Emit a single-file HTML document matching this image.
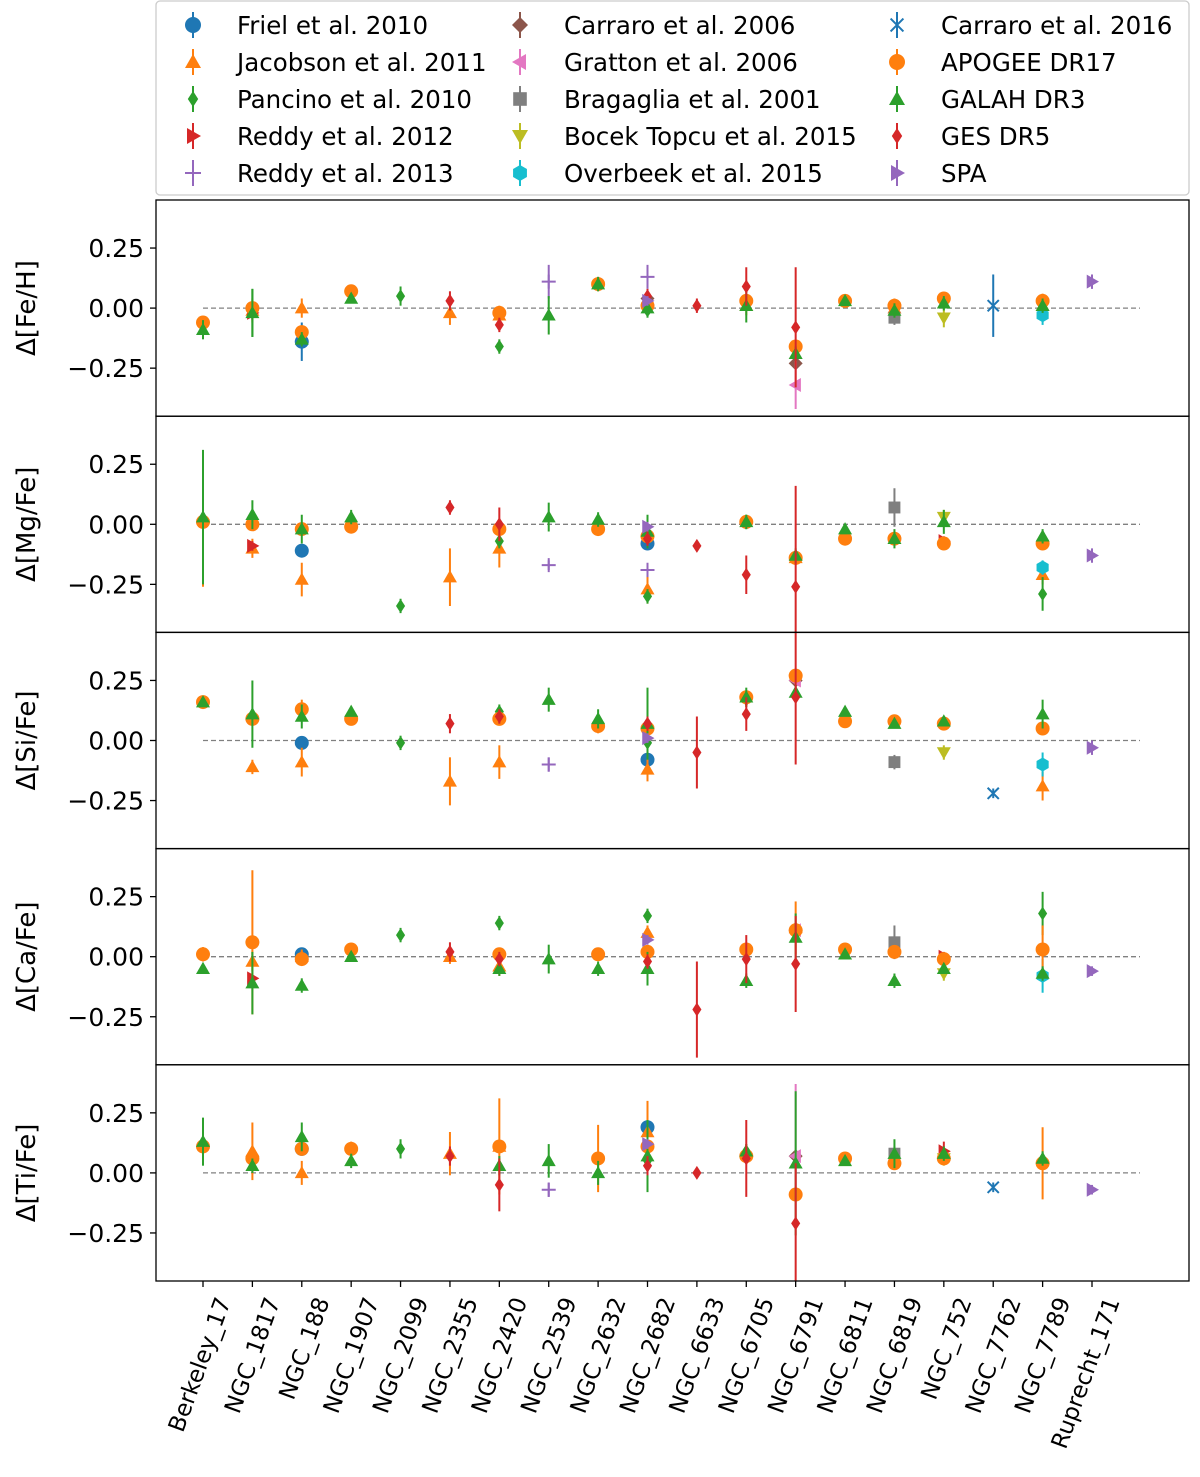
<!DOCTYPE html>
<html><head><meta charset="utf-8"><style>
html,body{margin:0;padding:0;background:#fff;}
svg{display:block;font-family:"DejaVu Sans","Liberation Sans",sans-serif;}
</style></head><body>
<svg id="chart" width="1200" height="1477" viewBox="0 0 1200 1477" xmlns="http://www.w3.org/2000/svg"></svg>
<script>
const clusters = ["Berkeley_17","NGC_1817","NGC_188","NGC_1907","NGC_2099","NGC_2355","NGC_2420","NGC_2539","NGC_2632","NGC_2682","NGC_6633","NGC_6705","NGC_6791","NGC_6811","NGC_6819","NGC_752","NGC_7762","NGC_7789","Ruprecht_171"];
const panelLabels = ["Δ[Fe/H]","Δ[Mg/Fe]","Δ[Si/Fe]","Δ[Ca/Fe]","Δ[Ti/Fe]"];
const yTicks = [0.25, 0, -0.25];
const yTickLabels = ["0.25","0.00","\u22120.25"];
const surveys = ["Friel et al. 2010","Jacobson et al. 2011","Pancino et al. 2010","Reddy et al. 2012","Reddy et al. 2013","Carraro et al. 2006","Gratton et al. 2006","Bragaglia et al. 2001","Bocek Topcu et al. 2015","Overbeek et al. 2015","Carraro et al. 2016","APOGEE DR17","GALAH DR3","GES DR5","SPA"];
const colors = ["#1f77b4","#ff7f0e","#2ca02c","#d62728","#9467bd","#8c564b","#e377c2","#7f7f7f","#bcbd22","#17becf","#1f77b4","#ff7f0e","#2ca02c","#d62728","#9467bd"];
const markers = ["o","^","d",">","+","D","<","s","v","h","x","o","^","d",">"];
// data: per panel, per survey: [clusterIndex, value, error]
const feH = [
 [[2,-0.14,0.08]],
 [[1,-0.01,0.05],[2,0.00,0.04],[5,-0.02,0.05],[6,-0.03,0.04],[9,0.02,0.04],[11,0.01,0.04],[14,0.00,0.04],[17,0.01,0.05]],
 [[1,-0.02,0.1],[2,-0.12,0.03],[4,0.05,0.04],[6,-0.16,0.03],[9,-0.01,0.03]],
 [[1,-0.02,0.03]],
 [[7,0.11,0.07],[9,0.13,0.05]],
 [[9,0.04,0.02],[12,-0.23,0.02]],
 [[12,-0.32,0.1]],
 [[14,-0.04,0.03]],
 [[15,-0.04,0.04]],
 [[17,-0.03,0.04]],
 [[16,0.01,0.13]],
 [[0,-0.06,0.02],[1,0.00,0.02],[2,-0.10,0.02],[3,0.07,0.02],[6,-0.02,0.02],[8,0.10,0.03],[9,0.01,0.02],[11,0.03,0.02],[12,-0.16,0.02],[13,0.03,0.02],[14,0.01,0.02],[15,0.04,0.02],[17,0.03,0.02]],
 [[0,-0.09,0.04],[1,-0.02,0.1],[2,-0.13,0.03],[3,0.04,0.02],[7,-0.03,0.08],[8,0.10,0.03],[9,0.00,0.03],[11,0.01,0.07],[12,-0.19,0.03],[13,0.03,0.02],[14,-0.01,0.03],[15,0.02,0.03],[17,0.01,0.03]],
 [[5,0.03,0.04],[6,-0.07,0.03],[9,0.05,0.03],[10,0.01,0.03],[11,0.09,0.08],[12,-0.08,0.25]],
 [[9,0.03,0.02],[18,0.11,0.03]]
];
const mgFe = [
 [[2,-0.11,0.02],[9,-0.08,0.02]],
 [[1,-0.10,0.04],[2,-0.23,0.07],[5,-0.22,0.12],[6,-0.10,0.08],[9,-0.27,0.06],[12,-0.14,0.03],[17,-0.21,0.04]],
 [[4,-0.34,0.03],[6,-0.07,0.03],[9,-0.30,0.03],[11,0.01,0.03],[17,-0.29,0.07]],
 [[1,-0.09,0.02],[15,-0.07,0.02]],
 [[7,-0.17,0.02],[9,-0.19,0.03]],
 [],[],
 [[14,0.07,0.08]],
 [[15,0.03,0.03]],
 [[17,-0.18,0.03]],
 [],
 [[0,0.01,0.27],[1,0.00,0.02],[2,-0.02,0.02],[3,-0.01,0.02],[6,-0.02,0.02],[8,-0.02,0.02],[9,-0.05,0.02],[11,0.01,0.02],[12,-0.14,0.02],[13,-0.06,0.02],[14,-0.06,0.02],[15,-0.08,0.02],[17,-0.08,0.02]],
 [[0,0.03,0.28],[1,0.04,0.06],[2,-0.02,0.06],[3,0.03,0.03],[7,0.03,0.06],[8,0.02,0.03],[9,-0.03,0.07],[11,0.01,0.03],[12,-0.13,0.03],[13,-0.02,0.02],[14,-0.06,0.04],[15,0.01,0.05],[17,-0.05,0.03]],
 [[5,0.07,0.03],[6,0.00,0.07],[9,-0.06,0.03],[10,-0.09,0.02],[11,-0.21,0.08],[12,-0.26,0.42]],
 [[9,-0.01,0.02],[18,-0.13,0.03]]
];
const siFe = [
 [[2,-0.01,0.02],[9,-0.08,0.02]],
 [[1,-0.11,0.03],[2,-0.09,0.06],[5,-0.17,0.1],[6,-0.09,0.07],[9,-0.12,0.05],[17,-0.19,0.06]],
 [[1,0.10,0.03],[4,-0.01,0.03],[6,0.12,0.03],[9,-0.01,0.03],[11,0.17,0.03]],
 [],
 [[7,-0.10,0.03]],
 [[12,0.25,0.02]],
 [[12,0.25,0.02]],
 [[14,-0.09,0.03]],
 [[15,-0.05,0.03]],
 [[17,-0.10,0.05]],
 [[16,-0.22,0.02]],
 [[0,0.16,0.02],[1,0.09,0.02],[2,0.13,0.04],[3,0.09,0.02],[6,0.09,0.02],[8,0.06,0.03],[9,0.05,0.02],[11,0.18,0.02],[12,0.27,0.02],[13,0.08,0.02],[14,0.08,0.02],[15,0.07,0.02],[17,0.05,0.02]],
 [[0,0.16,0.02],[1,0.11,0.14],[2,0.10,0.05],[3,0.12,0.02],[7,0.17,0.05],[8,0.09,0.04],[9,0.07,0.15],[11,0.18,0.04],[12,0.20,0.03],[13,0.12,0.02],[14,0.07,0.02],[15,0.08,0.02],[17,0.11,0.06]],
 [[5,0.07,0.04],[6,0.10,0.03],[9,0.07,0.03],[10,-0.05,0.15],[11,0.11,0.07],[12,0.18,0.28]],
 [[9,0.01,0.02],[18,-0.03,0.03]]
];
const caFe = [
 [[2,0.01,0.02]],
 [[1,-0.02,0.04],[2,0.00,0.03],[5,0.00,0.03],[6,-0.04,0.04],[9,0.10,0.03],[12,0.12,0.11]],
 [[4,0.09,0.03],[6,0.14,0.03],[9,0.17,0.03],[17,0.18,0.09]],
 [[1,-0.09,0.02],[15,0.00,0.02]],
 [],
 [[12,0.11,0.02]],
 [[12,0.11,0.02]],
 [[14,0.06,0.07]],
 [[15,-0.07,0.03]],
 [[17,-0.08,0.07]],
 [],
 [[0,0.01,0.03],[1,0.06,0.3],[2,-0.01,0.02],[3,0.03,0.02],[6,0.01,0.02],[8,0.01,0.02],[9,0.02,0.02],[11,0.03,0.02],[12,0.11,0.02],[13,0.03,0.02],[14,0.02,0.02],[15,-0.01,0.02],[17,0.03,0.1]],
 [[0,-0.05,0.02],[1,-0.11,0.13],[2,-0.12,0.03],[3,0.00,0.02],[6,-0.05,0.03],[7,-0.01,0.06],[8,-0.05,0.03],[9,-0.05,0.07],[11,-0.10,0.03],[12,0.08,0.1],[13,0.01,0.02],[14,-0.10,0.03],[15,-0.05,0.02],[17,-0.07,0.03]],
 [[5,0.02,0.04],[6,-0.01,0.03],[9,-0.02,0.03],[10,-0.22,0.2],[11,-0.01,0.1],[12,-0.03,0.2]],
 [[9,0.07,0.02],[18,-0.06,0.02]]
];
const tiFe = [
 [[2,0.10,0.02],[9,0.19,0.02]],
 [[1,0.09,0.12],[2,0.00,0.05],[5,0.08,0.09],[6,0.11,0.2],[9,0.17,0.13]],
 [[4,0.10,0.04],[9,0.05,0.03],[11,0.09,0.03]],
 [[15,0.09,0.04]],
 [[7,-0.07,0.03]],
 [[12,0.07,0.02]],
 [[12,0.07,0.3]],
 [[14,0.08,0.03]],
 [[15,0.06,0.03]],
 [],
 [[16,-0.06,0.02]],
 [[0,0.11,0.02],[1,0.06,0.02],[2,0.10,0.02],[3,0.10,0.03],[6,0.11,0.02],[8,0.06,0.14],[9,0.11,0.02],[11,0.07,0.02],[12,-0.09,0.02],[13,0.06,0.02],[14,0.04,0.02],[15,0.06,0.02],[17,0.04,0.15]],
 [[0,0.13,0.1],[1,0.03,0.03],[2,0.15,0.06],[3,0.05,0.03],[6,0.03,0.04],[7,0.05,0.07],[8,0.00,0.05],[9,0.07,0.15],[11,0.09,0.03],[12,0.04,0.3],[13,0.05,0.02],[14,0.08,0.06],[15,0.08,0.03],[17,0.06,0.03]],
 [[5,0.07,0.04],[6,-0.05,0.11],[9,0.03,0.04],[10,0.00,0.02],[11,0.06,0.16],[12,-0.21,0.25]],
 [[9,0.12,0.02],[18,-0.07,0.02]]
];
const panels = [feH, mgFe, siFe, caFe, tiFe];

const NS = "http://www.w3.org/2000/svg";
const svg = document.getElementById("chart");
function mk(tag, attrs, parent) {
  const e = document.createElementNS(NS, tag);
  for (const k in attrs) e.setAttribute(k, attrs[k]);
  (parent || svg).appendChild(e);
  return e;
}
const X0 = 156, X1 = 1189, PT = 200, PH = 216.2;
const YMIN = -0.45, YMAX = 0.45;
function xScale(i) { return 203 + i * (1092 - 203) / 18; }
function yScale(p, v) { return PT + p * PH + (YMAX - v) / (YMAX - YMIN) * PH; }

function drawMarker(g, m, cx, cy, color, r) {
  r = r || 7;
  let el;
  if (m === "o") el = mk("circle", {cx, cy, r, fill: color}, g);
  else if (m === "h") el = mk("polygon", {points: [0,1,2,3,4,5].map(k => { const a = Math.PI/3*k + Math.PI/6; return (cx + r*Math.cos(a)) + "," + (cy + r*Math.sin(a)); }).join(" "), fill: color}, g);
  else if (m === "s") el = mk("rect", {x: cx - r*0.85, y: cy - r*0.85, width: r*1.7, height: r*1.7, fill: color}, g);
  else if (m === "D") el = mk("polygon", {points: `${cx},${cy-r} ${cx+r},${cy} ${cx},${cy+r} ${cx-r},${cy}`, fill: color}, g);
  else if (m === "d") el = mk("polygon", {points: `${cx},${cy-r} ${cx+r*0.65},${cy} ${cx},${cy+r} ${cx-r*0.65},${cy}`, fill: color}, g);
  else if (m === "^") el = mk("polygon", {points: `${cx},${cy-r} ${cx+r},${cy+r*0.75} ${cx-r},${cy+r*0.75}`, fill: color}, g);
  else if (m === "v") el = mk("polygon", {points: `${cx},${cy+r} ${cx+r},${cy-r*0.75} ${cx-r},${cy-r*0.75}`, fill: color}, g);
  else if (m === ">") el = mk("polygon", {points: `${cx+r},${cy} ${cx-r*0.75},${cy-r} ${cx-r*0.75},${cy+r}`, fill: color}, g);
  else if (m === "<") el = mk("polygon", {points: `${cx-r},${cy} ${cx+r*0.75},${cy-r} ${cx+r*0.75},${cy+r}`, fill: color}, g);
  else if (m === "+") el = mk("path", {d: `M${cx-r},${cy}H${cx+r}M${cx},${cy-r}V${cy+r}`, stroke: color, "stroke-width": 2, fill: "none"}, g);
  else if (m === "x") el = mk("path", {d: `M${cx-r*0.8},${cy-r*0.8}L${cx+r*0.8},${cy+r*0.8}M${cx-r*0.8},${cy+r*0.8}L${cx+r*0.8},${cy-r*0.8}`, stroke: color, "stroke-width": 2, fill: "none"}, g);
  return el;
}

const defs = mk("defs", {});
panels.forEach((_, p) => {
  const cp = mk("clipPath", {id: "clip" + p}, defs);
  mk("rect", {x: X0, y: PT + p*PH, width: X1 - X0, height: PH}, cp);
});

panels.forEach((pdata, p) => {
  const g = mk("g", {});
  
  
  const zl = mk("line", {x1: xScale(0), x2: 1140, y1: yScale(p, 0), y2: yScale(p, 0), stroke: "#808080", "stroke-width": 1.3, "stroke-dasharray": "5,3"}, g);
  
  
  const dg = mk("g", {"clip-path": `url(#clip${p})`}, g);
  pdata.forEach((series, s) => {
    series.forEach(d => {
      const cx = xScale(d[0]), cy = yScale(p, d[1]);
      const bar = mk("line", {x1: cx, x2: cx, y1: yScale(p, d[1] + d[2]), y2: yScale(p, d[1] - d[2]), stroke: colors[s], "stroke-width": 2}, dg);
      
      
      const mEl = drawMarker(dg, markers[s], cx, cy, colors[s]);
      
      
    });
  });
  const fr = mk("rect", {x: X0, y: PT + p*PH, width: X1 - X0, height: PH, fill: "none", stroke: "#000", "stroke-width": 1.3}, g);
  
  
  yTicks.forEach((t, k) => {
    const y = yScale(p, t);
    mk("line", {x1: X0 - 6, x2: X0, y1: y, y2: y, stroke: "#000", "stroke-width": 1.3}, g);
    const tl = mk("text", {x: X0 - 12, y: y + 9, "text-anchor": "end", "font-size": 25}, g);
    tl.textContent = yTickLabels[k];
    
    
  });
  const yl = mk("text", {x: 0, y: 0, "text-anchor": "middle", "font-size": 26, transform: `translate(35,${PT + p*PH + PH/2}) rotate(-90)`}, g);
  yl.textContent = panelLabels[p];
  
  
});

const bottom = PT + 5*PH;
clusters.forEach((c, i) => {
  const x = xScale(i);
  mk("line", {x1: x, x2: x, y1: bottom, y2: bottom + 6, stroke: "#000", "stroke-width": 1.3});
  const t = mk("text", {x: 0, y: 0, "text-anchor": "end", "font-size": 23, transform: `translate(${x + 28},${bottom + 20}) rotate(-70)`});
  t.textContent = c;
  
  
});

const lg = mk("g", {});


mk("rect", {x: 156, y: 1, width: 1033, height: 194, rx: 4, fill: "#fff", stroke: "#ccc", "stroke-width": 1.3}, lg);
const colX = [193, 520, 897];
surveys.forEach((name, s) => {
  const col = Math.floor(s / 5), row = s % 5;
  const x = colX[col], y = 25 + row * 37;
  const eg = mk("g", {}, lg);
  
  
  mk("line", {x1: x, x2: x, y1: y - 13, y2: y + 13, stroke: colors[s], "stroke-width": 2}, eg);
  drawMarker(eg, markers[s], x, y, colors[s], 8);
  const t = mk("text", {x: x + 44, y: y + 9, "font-size": 24.5}, eg);
  t.textContent = name;
});
</script>
</body></html>
